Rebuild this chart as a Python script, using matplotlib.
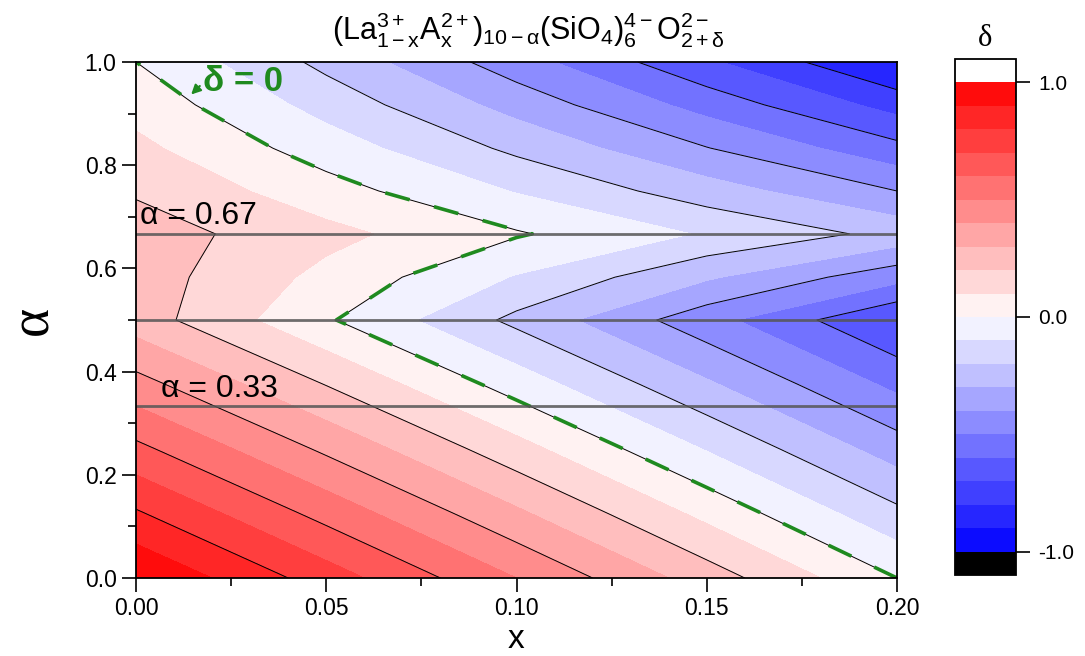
import numpy as np
import matplotlib
matplotlib.use("Agg")
import matplotlib.pyplot as plt

plt.rcParams['font.family'] = ['Liberation Sans', 'DejaVu Sans']
plt.rcParams['mathtext.fontset'] = 'custom'
plt.rcParams['mathtext.rm'] = 'Liberation Sans'
plt.rcParams['mathtext.it'] = 'Liberation Sans:italic'
plt.rcParams['mathtext.bf'] = 'Liberation Sans:bold'
plt.rcParams['contour.negative_linestyle'] = 'solid'

# ---- data ----
x_nodes = [0.00, 0.05, 0.10, 0.15, 0.20]
alpha_nodes = [0.0, 0.125, 0.25, 0.375, 0.5, 0.583, 0.667, 0.75, 0.833, 0.917, 1.0]
delta_rows = [
    [1.000, 0.750, 0.500, 0.250, 0.000],
    [0.8125, 0.5656, 0.3188, 0.0719, -0.175],
    [0.625, 0.3813, 0.1375, -0.1063, -0.350],
    [0.4375, 0.1969, -0.0438, -0.2844, -0.525],
    [0.250, 0.0125, -0.225, -0.4625, -0.700],
    [0.250, 0.0713, -0.1075, -0.2863, -0.465],
    [0.250, 0.130, 0.010, -0.110, -0.230],
    [0.1875, 0.0406, -0.1063, -0.2531, -0.400],
    [0.125, -0.0488, -0.2225, -0.3963, -0.570],
    [0.0625, -0.1381, -0.3388, -0.5394, -0.740],
    [0.000, -0.2275, -0.455, -0.6825, -0.910],
]
fill_levels = [round(-1.0 + 0.1 * i, 1) for i in range(21)]
line_levels = [-0.8, -0.6, -0.4, -0.2, 0.0, 0.2, 0.4, 0.6, 0.8]
alpha_marks = [0.333, 0.5, 0.667]
alpha_labels = {0.667: "α = 0.67", 0.333: "α = 0.33"}
cbar_ticks = [-1.0, 0.0, 1.0]

X = np.array(x_nodes)
A = np.array(alpha_nodes)
D = np.array(delta_rows)

fig = plt.figure(figsize=(10.85, 6.56), dpi=100)
ax = fig.add_axes([136/1085, 78/656, 761/1085, 516/656])
cax = fig.add_axes([955/1085, 81/656, 61/1085, 516/656])

cmap = plt.get_cmap('bwr').copy()
cmap.set_over('white')
cmap.set_under('black')

cf = ax.contourf(X, A, D, levels=fill_levels, cmap=cmap, extend='both')
ax.contour(X, A, D, levels=line_levels, colors='black', linewidths=0.7,
           linestyles='solid')
ax.contour(X, A, D, levels=[0.0], colors='#1f8a1f', linewidths=2.6,
           linestyles=[(0, (7, 7))])

for a in alpha_marks:
    ax.axhline(a, color='#555555', lw=2.0, alpha=0.85)
ax.text(0.001, 0.672, alpha_labels[0.667], fontsize=23, ha='left', va='bottom')
ax.text(0.0065, 0.337, alpha_labels[0.333], fontsize=23, ha='left', va='bottom')

ax.annotate('δ = 0', xy=(0.0145, 0.937), xytext=(0.0175, 0.962),
            fontsize=25, fontweight='bold', color='#1f8a1f', ha='left', va='center',
            arrowprops=dict(arrowstyle='-|>', color='#1f8a1f', lw=1.5,
                            mutation_scale=14, shrinkA=0, shrinkB=0,
                            relpos=(0.0, 0.45)))

ax.set_xlim(0, 0.2)
ax.set_ylim(0, 1.0)
ax.set_xticks([0.0, 0.05, 0.10, 0.15, 0.20])
ax.set_xticklabels(['0.00', '0.05', '0.10', '0.15', '0.20'])
ax.set_yticks([0.0, 0.2, 0.4, 0.6, 0.8, 1.0])
ax.set_yticklabels(['0.0', '0.2', '0.4', '0.6', '0.8', '1.0'])
ax.set_xticks([0.025, 0.075, 0.125, 0.175], minor=True)
ax.set_yticks([0.1, 0.3, 0.5, 0.7, 0.9], minor=True)
ax.tick_params(which='major', direction='out', length=10, width=1.2, labelsize=16.5,
               colors='black', pad=4)
ax.tick_params(which='minor', direction='out', length=6, width=1.2)
for s in ax.spines.values():
    s.set_linewidth(1.3)
fig.text(516/1085, 1 - 648/656, 'x', fontsize=24, ha='center', va='baseline')
ax.set_ylabel('α', fontsize=40, family='Liberation Serif', labelpad=18)

cb = fig.colorbar(cf, cax=cax, extend='both', extendrect=True, extendfrac=0.05,
                  ticks=cbar_ticks, drawedges=False)
cb.ax.set_yticklabels(['-1.0', '0.0', '1.0'])
cb.ax.tick_params(direction='out', length=10, width=1.2, labelsize=15, pad=6)
cb.outline.set_linewidth(1.3)
fig.text(985/1085, 1 - 38/656, 'δ', fontsize=22, family='Liberation Serif', ha='center', va='center')

title = (r'$\mathrm{(La^{3+}_{1-x}A^{2+}_{x})_{10-\alpha}(SiO_4)^{4-}_{6}O^{2-}_{2+\delta}}$')
fig.text(528/1085, 1 - 30/656, title, fontsize=22, ha='center', va='center')

fig.savefig('out.png', dpi=100)
